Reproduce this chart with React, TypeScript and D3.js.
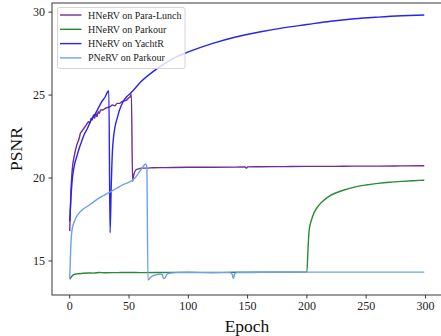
import React from "react";
import * as d3 from "d3";

const seriesNames = ["HNeRV on Para-Lunch", "HNeRV on Parkour", "HNeRV on YachtR", "PNeRV on Parkour"];
const seriesColors = ["#6f2d96", "#2b8a34", "#2424f5", "#6e9ff0"];

const xTicks = [0, 50, 100, 150, 200, 250, 300];
const yTicks = [15, 20, 25, 30];

const paraLunchEpochs = [0, 1, 2, 4, 6, 8, 9, 10, 12, 14, 16, 17, 18, 19, 20, 21, 22, 23, 24, 25, 26, 28, 30, 32, 34, 36, 38, 40, 42, 44, 46, 48, 50, 51, 52, 53, 54, 56, 58, 60, 65, 70, 80, 100, 120, 140, 148, 149, 150, 160, 180, 200, 220, 240, 260, 280, 299];
const paraLunchPSNR = [16.8, 19.2, 20.4, 21.4, 22.0, 22.4, 22.7, 22.8, 23.0, 23.2, 23.4, 23.3, 23.6, 23.5, 23.8, 23.6, 23.9, 23.7, 24.0, 23.9, 24.1, 24.1, 24.2, 24.25, 24.3, 24.4, 24.35, 24.5, 24.5, 24.6, 24.65, 24.7, 24.85, 24.9, 25.05, 19.8, 20.2, 20.5, 20.55, 20.6, 20.6, 20.62, 20.63, 20.65, 20.65, 20.66, 20.67, 20.6, 20.67, 20.68, 20.69, 20.7, 20.7, 20.72, 20.72, 20.73, 20.74];

const parkourEpochs = [0, 1, 2, 4, 6, 10, 15, 20, 25, 30, 40, 50, 60, 80, 100, 120, 140, 160, 180, 199, 200, 201, 202, 204, 206, 210, 215, 220, 230, 240, 250, 260, 270, 280, 290, 299];
const parkourPSNR = [13.9, 14.0, 14.1, 14.2, 14.22, 14.25, 14.28, 14.27, 14.31, 14.29, 14.3, 14.31, 14.3, 14.31, 14.32, 14.31, 14.32, 14.32, 14.33, 14.33, 14.33, 15.8, 16.9, 17.5, 17.9, 18.35, 18.7, 18.95, 19.25, 19.45, 19.58, 19.68, 19.75, 19.8, 19.84, 19.87];

const yachtEpochs = [0, 1, 2, 4, 6, 8, 10, 12, 15, 18, 21, 24, 27, 30, 32, 33, 34, 35, 36, 38, 40, 42, 45, 48, 51, 55, 60, 70, 80, 90, 100, 120, 140, 160, 180, 200, 220, 240, 260, 280, 299];
const yachtPSNR = [17.4, 18.8, 19.8, 20.8, 21.3, 21.8, 22.2, 22.6, 23.0, 23.5, 23.8, 24.2, 24.6, 24.9, 25.2, 25.25, 16.7, 19.5, 21.6, 23.0, 23.6, 24.1, 24.6, 24.9, 25.1, 25.4, 25.8, 26.4, 26.9, 27.3, 27.6, 28.1, 28.5, 28.8, 29.05, 29.25, 29.45, 29.6, 29.7, 29.78, 29.83];

const pnervEpochs = [0, 1, 2, 4, 6, 8, 10, 15, 20, 25, 30, 35, 40, 45, 50, 55, 58, 60, 62, 63, 64, 65, 66, 68, 70, 72, 75, 78, 79, 80, 82, 85, 90, 100, 120, 135, 137, 138, 139, 141, 145, 160, 200, 250, 299];
const pnervPSNR = [13.95, 16.0, 16.9, 17.4, 17.7, 17.9, 18.05, 18.3, 18.55, 18.8, 19.0, 19.2, 19.4, 19.6, 19.75, 20.0, 20.3, 20.5, 20.7, 20.8, 20.85, 20.7, 13.85, 14.0, 14.1, 14.15, 14.2, 14.2, 13.95, 13.95, 14.2, 14.27, 14.3, 14.3, 14.3, 14.3, 14.2, 13.95, 14.2, 14.3, 14.3, 14.32, 14.33, 14.33, 14.33];

const allEpochs = [paraLunchEpochs, parkourEpochs, yachtEpochs, pnervEpochs];
const allPSNR = [paraLunchPSNR, parkourPSNR, yachtPSNR, pnervPSNR];

const W = 441;
const H = 336;
const left = 52, right = 442, top = 3, bottom = 295;
const FONT = "'Liberation Serif', 'DejaVu Serif', serif";

export default function App() {
  const x = d3.scaleLinear().domain([-14.95, 313.95]).range([left, right]);
  const y = d3.scaleLinear().domain([12.95, 30.55]).range([bottom, top]);
  const line = d3
    .line<[number, number]>()
    .x((d) => x(d[0]))
    .y((d) => y(d[1]))
    .curve(d3.curveMonotoneX);

  return (
    <div style={{ position: "fixed", left: 0, top: 0, width: W, height: H, background: "#fff" }}>
      <svg width={W} height={H} style={{ display: "block" }}>
        <rect x={0} y={0} width={W} height={H} fill="#fff" />
        <defs>
          <clipPath id="plotclip">
            <rect x={left} y={top} width={right - left} height={bottom - top} />
          </clipPath>
        </defs>
        <g clipPath="url(#plotclip)">
          {allEpochs.map((ep, i) => (
            <path
              key={i}
              d={line(ep.map((e, j) => [e, allPSNR[i][j]] as [number, number])) || ""}
              fill="none"
              stroke={seriesColors[i]}
              strokeWidth={1.4}
              strokeLinejoin="round"
            />
          ))}
        </g>
        {/* spines */}
        <rect x={left} y={top} width={right - left} height={bottom - top} fill="none" stroke="#222" strokeWidth={0.9} />
        {/* x ticks */}
        {xTicks.map((t) => (
          <g key={"x" + t}>
            <line x1={x(t)} x2={x(t)} y1={bottom} y2={bottom + 3.5} stroke="#222" strokeWidth={0.9} />
            <text x={x(t)} y={bottom + 15} textAnchor="middle" fontFamily={FONT} fontSize={12} fill="#222">
              {t}
            </text>
          </g>
        ))}
        {/* y ticks */}
        {yTicks.map((t) => (
          <g key={"y" + t}>
            <line x1={left - 3.5} x2={left} y1={y(t)} y2={y(t)} stroke="#222" strokeWidth={0.9} />
            <text x={left - 7} y={y(t) + 4.2} textAnchor="end" fontFamily={FONT} fontSize={12} fill="#222">
              {t}
            </text>
          </g>
        ))}
        <text x={(left + right) / 2} y={332} textAnchor="middle" fontFamily={FONT} fontSize={17.5} fill="#111">
          Epoch
        </text>
        <text
          transform={`translate(${22},${(top + bottom) / 2}) rotate(-90)`}
          textAnchor="middle"
          fontFamily={FONT}
          fontSize={17.5}
          fill="#111"
        >
          PSNR
        </text>
        {/* legend */}
        <g>
          <rect x={57.5} y={7.5} width={127.5} height={61} rx={2} fill="#fff" fillOpacity={0.8} stroke="#d0d0d0" strokeWidth={0.9} />
          {seriesNames.map((n, i) => {
            const ly = 15 + i * 14.3;
            return (
              <g key={n}>
                <line x1={60} x2={81.5} y1={ly} y2={ly} stroke={seriesColors[i]} strokeWidth={1.4} />
                <text x={88} y={ly + 3.5} fontFamily={FONT} fontSize={10} fill="#222">
                  {n}
                </text>
              </g>
            );
          })}
        </g>
      </svg>
    </div>
  );
}
